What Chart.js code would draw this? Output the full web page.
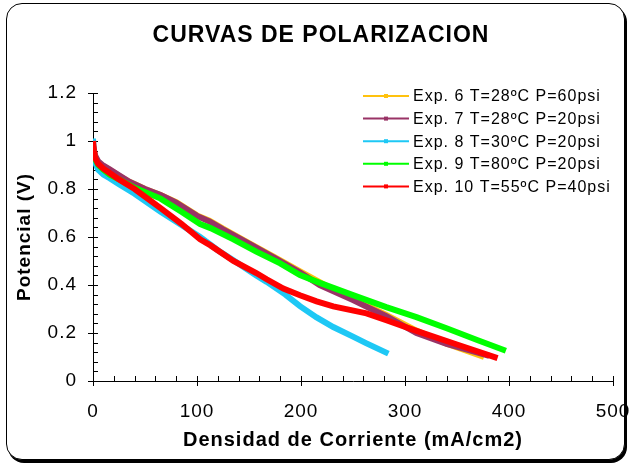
<!DOCTYPE html>
<html>
<head>
<meta charset="utf-8">
<script src="https://cdn.jsdelivr.net/npm/chart.js@4.4.0/dist/chart.umd.min.js"></script>
<style>
    body { margin: 0; background: #fff; }
    .wrap { position: relative; width: 629px; height: 466px; overflow: hidden; }
    .frame {
        position: absolute; left: 6px; top: 3px; width: 617px; height: 455px;
        border: 1.5px solid #000; border-radius: 16px;
        box-shadow: 2px 3px 0 #000;
        background: #fff;
    }
    #chart { position: absolute; left: 0; top: 0; }
</style>
</head>
<body>
<div class="wrap">
    <div class="frame"></div>
    <canvas id="chart" width="629" height="466"></canvas>
</div>
<script>
// Datos
const exp6X = [0, 2, 5, 10, 16, 25, 35, 50, 65, 80, 100, 112, 125, 150, 175, 200, 225, 250, 282, 311, 340, 376];
const exp6Y = [0.97, 0.935, 0.91, 0.895, 0.88, 0.855, 0.83, 0.80, 0.775, 0.745, 0.69, 0.668, 0.635, 0.575, 0.515, 0.455, 0.395, 0.343, 0.275, 0.21, 0.155, 0.10];

const exp7X = [0, 2, 5, 10, 16, 25, 35, 50, 65, 80, 100, 112, 125, 150, 175, 200, 218, 250, 282, 311, 340, 381];
const exp7Y = [0.98, 0.94, 0.915, 0.897, 0.882, 0.857, 0.83, 0.80, 0.775, 0.743, 0.688, 0.665, 0.632, 0.572, 0.512, 0.45, 0.40, 0.337, 0.27, 0.20, 0.155, 0.105];

const exp8X = [0, 1, 2, 5, 10, 16, 25, 40, 65, 85, 103, 120, 135, 157, 167, 185, 199, 215, 231, 250, 263, 284];
const exp8Y = [1.01, 0.95, 0.91, 0.88, 0.86, 0.845, 0.82, 0.78, 0.705, 0.65, 0.60, 0.545, 0.503, 0.44, 0.413, 0.36, 0.312, 0.265, 0.225, 0.185, 0.157, 0.114];

const exp9X = [0, 2, 5, 10, 16, 26, 40, 65, 85, 103, 113, 135, 157, 180, 199, 218, 250, 282, 311, 340, 370, 397];
const exp9Y = [0.96, 0.925, 0.90, 0.88, 0.86, 0.838, 0.805, 0.76, 0.705, 0.654, 0.637, 0.59, 0.539, 0.49, 0.441, 0.409, 0.358, 0.308, 0.266, 0.22, 0.17, 0.126];

const exp10X = [0, 1, 2, 5, 10, 16, 25, 40, 65, 85, 103, 113, 135, 157, 167, 183, 199, 215, 231, 263, 282, 311, 350, 389];
const exp10Y = [1.0, 0.96, 0.93, 0.905, 0.885, 0.867, 0.84, 0.80, 0.72, 0.655, 0.59, 0.565, 0.50, 0.45, 0.424, 0.385, 0.357, 0.332, 0.311, 0.282, 0.253, 0.209, 0.152, 0.095];

const seriesLabels = [
    'Exp. 6 T=28ºC P=60psi',
    'Exp. 7 T=28ºC P=20psi',
    'Exp. 8 T=30ºC P=20psi',
    'Exp. 9 T=80ºC P=20psi',
    'Exp. 10 T=55ºC P=40psi'
];
const seriesColors = ['#FFC20E', '#993366', '#1EC8F5', '#00FF00', '#FF0000'];

const xMajor = 100, xMinor = 20;
const yMajor = 0.2, yMinor = 0.04;

const FONT = "'Liberation Sans', Arial, sans-serif";

function toPoints(xs, ys) {
    return xs.map((x, i) => ({ x: x, y: ys[i] }));
}

const seriesData = [
    toPoints(exp6X, exp6Y),
    toPoints(exp7X, exp7Y),
    toPoints(exp8X, exp8Y),
    toPoints(exp9X, exp9Y),
    toPoints(exp10X, exp10Y)
];

// espaciado de letras como en el original
const spacingPlugin = {
    id: 'spacing',
    beforeUpdate(chart) { chart.ctx.letterSpacing = '1px'; },
    beforeDraw(chart) { chart.ctx.letterSpacing = '1px'; }
};

// marcas mayores y menores de los ejes
const tickMarks = {
    id: 'tickMarks',
    beforeDatasetsDraw(chart) {
        const ctx = chart.ctx;
        const xs = chart.scales.x, ys = chart.scales.y;
        const area = chart.chartArea;
        ctx.save();
        ctx.strokeStyle = '#000';
        ctx.lineWidth = 1;
        ctx.beginPath();
        for (let v = xs.min; v <= xs.max + 1e-9; v += xMinor) {
            const px = Math.round(xs.getPixelForValue(v)) + 0.5;
            const major = Math.abs(v / xMajor - Math.round(v / xMajor)) < 1e-6;
            ctx.moveTo(px, area.bottom - 5);
            ctx.lineTo(px, major ? area.bottom + 5 : area.bottom);
        }
        for (let v = ys.min; v <= ys.max + 1e-9; v += yMinor) {
            const py = Math.round(ys.getPixelForValue(v)) + 0.5;
            const major = Math.abs(v / yMajor - Math.round(v / yMajor)) < 1e-6;
            ctx.moveTo(major ? area.left - 5 : area.left, py);
            ctx.lineTo(area.left + 5, py);
        }
        ctx.stroke();
        ctx.restore();
    }
};

// leyenda dentro del área del gráfico
const insideLegend = {
    id: 'insideLegend',
    afterDraw(chart) {
        const ctx = chart.ctx;
        const area = chart.chartArea;
        const x0 = area.right - 250;
        ctx.save();
        ctx.font = '16px ' + FONT;
        ctx.textBaseline = 'middle';
        seriesLabels.forEach((label, i) => {
            const y = area.top + 3 + i * 22.6;
            ctx.strokeStyle = seriesColors[i];
            ctx.lineWidth = 2;
            ctx.beginPath();
            ctx.moveTo(x0, y);
            ctx.lineTo(x0 + 46, y);
            ctx.stroke();
            ctx.fillStyle = seriesColors[i];
            ctx.fillRect(x0 + 21, y - 2, 4, 4);
            ctx.fillStyle = '#000';
            ctx.fillText(label, x0 + 50, y + 1);
        });
        ctx.restore();
    }
};

Chart.defaults.font.family = FONT;
Chart.defaults.color = '#000';

new Chart(document.getElementById('chart'), {
    type: 'line',
    data: {
        datasets: seriesData.map((pts, i) => ({
            label: seriesLabels[i],
            data: pts,
            borderColor: seriesColors[i],
            backgroundColor: seriesColors[i],
            borderWidth: 6,
            pointRadius: 0,
            fill: false,
            tension: 0,
            order: 5 - i
        }))
    },
    options: {
        responsive: false,
        animation: false,
        devicePixelRatio: 1,
        layout: { padding: { left: 13, right: 0, top: 0, bottom: 0 } },
        plugins: {
            legend: { display: false },
            tooltip: { enabled: false },
            title: {
                display: true,
                text: 'CURVAS DE POLARIZACION',
                color: '#000',
                font: { size: 23, weight: 'bold' },
                padding: { top: 21.7, bottom: 43.7 }
            }
        },
        scales: {
            x: {
                type: 'linear',
                min: 0,
                max: 500,
                ticks: { stepSize: xMajor, padding: 19, font: { size: 19 }, color: '#000', maxRotation: 0 },
                grid: { drawOnChartArea: false, drawTicks: false },
                border: { display: true, color: '#000', width: 1 },
                title: {
                    display: true,
                    text: 'Densidad de Corriente (mA/cm2)',
                    color: '#000',
                    font: { size: 20, weight: 'bold' },
                    padding: { top: 6, bottom: 14 }
                },
                afterFit(scale) {
                    scale.height = 85;
                    scale.paddingLeft = 0;
                    scale.paddingRight = 16;
                }
            },
            y: {
                type: 'linear',
                min: 0,
                max: 1.2,
                ticks: {
                    stepSize: yMajor,
                    padding: 16,
                    font: { size: 19 },
                    color: '#000',
                    callback: v => String(Number(v.toFixed(1)))
                },
                grid: { drawOnChartArea: false, drawTicks: false },
                border: { display: true, color: '#000', width: 1 },
                title: {
                    display: true,
                    text: 'Potencial (V)',
                    color: '#000',
                    font: { size: 19, weight: 'bold' },
                    padding: { top: 0.6, bottom: 6 }
                },
                afterFit(scale) {
                    scale.width = 80;
                    scale.paddingTop = 0;
                    scale.paddingBottom = 0;
                }
            }
        }
    },
    plugins: [spacingPlugin, tickMarks, insideLegend]
});
</script>
</body>
</html>
